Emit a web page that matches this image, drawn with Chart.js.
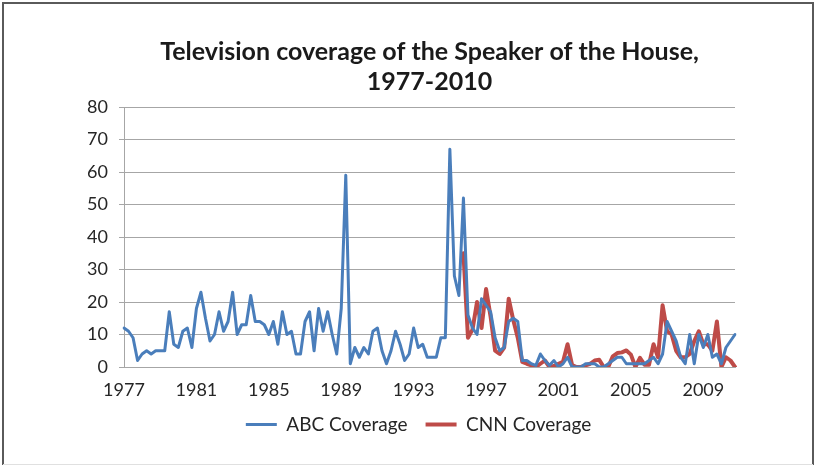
<!DOCTYPE html>
<html>
<head>
<meta charset="utf-8">
<script src="https://cdn.jsdelivr.net/npm/chart.js@4"></script>
<style>
  html, body { margin: 0; padding: 0; background: #fff; }
  #wrap { position: relative; width: 817px; height: 466px; }
</style>
</head>
<body>
<div id="wrap"><canvas id="chart" width="817" height="466"></canvas></div>
<script>
// Quarterly categories, 1977 Q1 through 2010 Q4
const firstYear = 1977;
const lastYear = 2010;
const quarters = [];
for (let y = firstYear; y <= lastYear; y++) {
  for (let q = 1; q <= 4; q++) quarters.push(y + ' Q' + q);
}

// Years that get a label on the horizontal axis
const yearTicks = ['1977', '1981', '1985', '1989', '1993', '1997', '2001', '2005', '2009'];

// Stories per quarter, ABC
const abcCoverage = [
  12, 11, 9, 2, 4, 5, 4, 5, 5, 5,
  17, 7, 6, 11, 12, 6, 18, 23, 15, 8,
  10, 17, 11, 14, 23, 10, 13, 13, 22, 14,
  14, 13, 10, 14, 7, 17, 10, 11, 4, 4,
  14, 17, 5, 18, 11, 17, 10, 4, 18, 59,
  1, 6, 3, 6, 4, 11, 12, 5, 1, 5,
  11, 7, 2, 4, 12, 6, 7, 3, 3, 3,
  9, 9, 67, 28, 22, 52, 16, 12, 10, 21,
  19, 17, 9, 5, 6, 14, 15, 14, 2, 2,
  1, 0.5, 4, 2, 0.5, 2, 0, 1, 3, 0,
  0, 0, 1, 1, 1, 0, 0, 1, 2, 3,
  3, 1, 1, 1, 1, 1, 2, 3, 1, 4,
  14, 11, 8, 3, 1, 10, 1, 10, 6, 10,
  3, 4, 1, 6, 8, 10
];

// Stories per quarter, CNN (series begins in 1995 Q4)
const cnnCoverage = [
  null, null, null, null, null, null, null, null, null, null,
  null, null, null, null, null, null, null, null, null, null,
  null, null, null, null, null, null, null, null, null, null,
  null, null, null, null, null, null, null, null, null, null,
  null, null, null, null, null, null, null, null, null, null,
  null, null, null, null, null, null, null, null, null, null,
  null, null, null, null, null, null, null, null, null, null,
  null, null, null, null, null, 35, 9, 11.5, 20, 12,
  24, 15.5, 5, 4, 6, 21, 14.5, 9, 1.6, 1,
  0.5, 0, 1, 2, 0, 0.3, 1, 1.6, 7, 0.6,
  0, 0, 0.5, 1, 2, 2.2, 0, 0, 3.3, 4.3,
  4.5, 5.1, 3.8, 0, 2.8, 0.7, 0.7, 7, 3, 19,
  11, 10, 5, 3, 3, 4, 8, 11, 7, 7,
  5, 14, 0, 3, 2, 0
];

const titleLines = ['Television coverage of the Speaker of the House,', '1977-2010'];
const seriesNames = ['ABC Coverage', 'CNN Coverage'];
const seriesColors = ['#4A7EBB', '#BE4B48'];

const gridColor = '#A6A6A6';
const textColor = '#262626';

Chart.defaults.font.family = 'Lato, "Open Sans", sans-serif';
Chart.defaults.color = textColor;

// Outer frame of the figure
const framePlugin = {
  id: 'frame',
  beforeDraw(chart) {
    const ctx = chart.ctx;
    ctx.save();
    ctx.fillStyle = '#ffffff';
    ctx.fillRect(0, 0, chart.width, chart.height);
    ctx.strokeStyle = '#5a5a5a';
    ctx.lineWidth = 2;
    ctx.beginPath();
    ctx.moveTo(3, 465);
    ctx.lineTo(3, 3);
    ctx.lineTo(813, 3);
    ctx.lineTo(813, 465);
    ctx.stroke();
    ctx.strokeStyle = '#e0e0e0';
    ctx.lineWidth = 1;
    ctx.beginPath();
    ctx.moveTo(3, 464.5);
    ctx.lineTo(813, 464.5);
    ctx.stroke();
    ctx.restore();
  }
};

// Nudge the legend row a little to the left of the plot centre
const legendShift = {
  id: 'legendShift',
  afterLayout(chart) {
    const lg = chart.legend;
    if (lg) { lg.left -= 11; lg.right -= 11; }
  }
};

new Chart(document.getElementById('chart'), {
  type: 'line',
  data: {
    labels: quarters,
    datasets: [
      {
        label: seriesNames[0],
        data: abcCoverage,
        borderColor: seriesColors[0],
        backgroundColor: seriesColors[0],
        borderWidth: 3,
        pointRadius: 0,
        tension: 0,
        borderJoinStyle: 'round',
        borderCapStyle: 'round'
      },
      {
        label: seriesNames[1],
        data: cnnCoverage,
        borderColor: seriesColors[1],
        backgroundColor: seriesColors[1],
        borderWidth: 4,
        pointRadius: 0,
        tension: 0,
        borderJoinStyle: 'round',
        borderCapStyle: 'round'
      }
    ]
  },
  options: {
    responsive: false,
    animation: false,
    devicePixelRatio: 1,
    layout: { padding: { left: 0, right: 82, top: 0, bottom: 22 } },
    plugins: {
      title: {
        display: true,
        text: titleLines,
        fullSize: false,
        color: '#1a1a1a',
        font: { size: 25, weight: 'bold', lineHeight: '30px' },
        padding: { top: 37, bottom: 10 }
      },
      legend: {
        position: 'bottom',
        fullSize: false,
        labels: {
          usePointStyle: true,
          pointStyle: 'line',
          pointStyleWidth: 31,
          boxWidth: 31,
          padding: 18,
          color: textColor,
          font: { size: 19 }
        }
      },
      tooltip: { enabled: false }
    },
    scales: {
      x: {
        type: 'category',
        offset: false,
        grid: { display: false, drawTicks: false },
        border: { display: true, color: gridColor, width: 1 },
        ticks: {
          autoSkip: false,
          maxRotation: 0,
          minRotation: 0,
          padding: 12,
          color: textColor,
          font: { size: 18 },
          callback(value, index) {
            const label = quarters[index];
            const year = label.slice(0, 4);
            return label.endsWith('Q1') && yearTicks.includes(year) ? year : null;
          }
        },
        afterFit(scale) { scale.height = 30; }
      },
      y: {
        min: 0,
        max: 80,
        grid: { color: gridColor, lineWidth: 1, tickLength: 5 },
        border: { display: true, color: gridColor, width: 1 },
        ticks: {
          stepSize: 10,
          padding: 11,
          color: textColor,
          font: { size: 18 }
        },
        afterFit(scale) { scale.width = 124; }
      }
    }
  },
  plugins: [framePlugin, legendShift]
});
</script>
</body>
</html>
